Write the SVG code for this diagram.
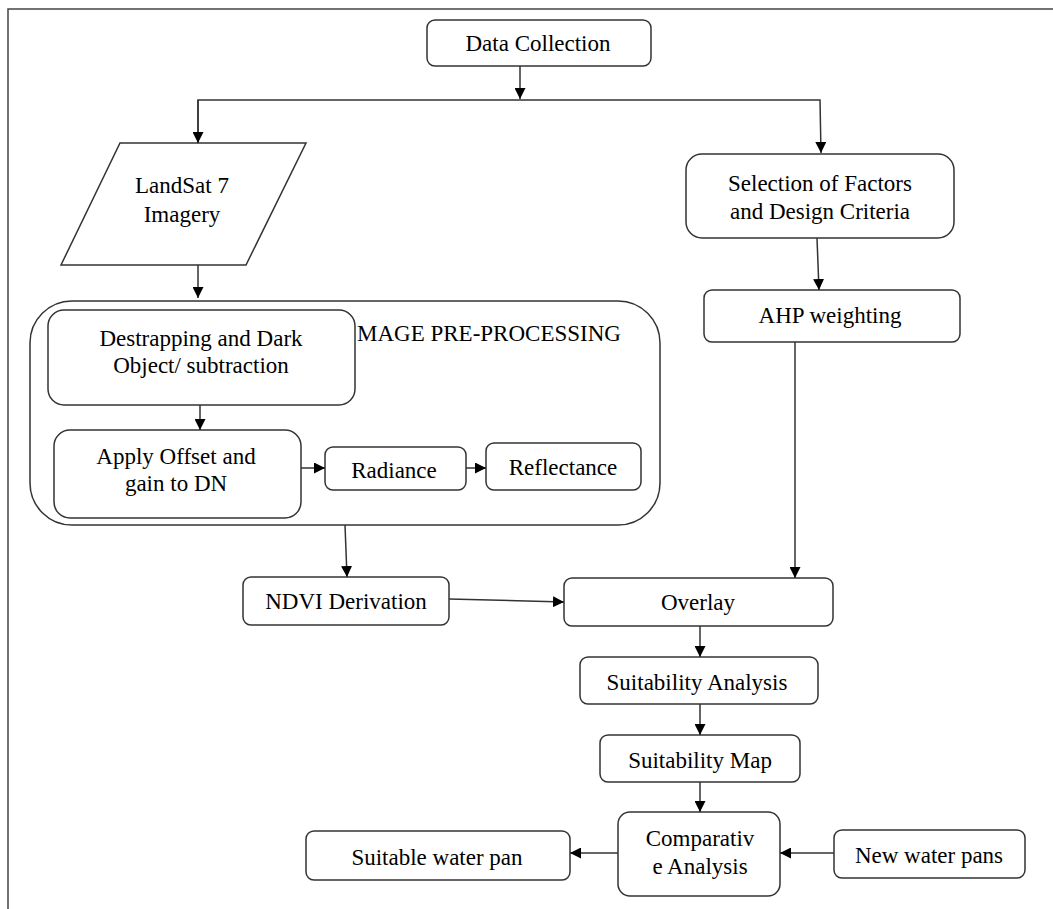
<svg xmlns="http://www.w3.org/2000/svg" width="1053" height="909" viewBox="0 0 1053 909">
<defs>
<marker id="ah" viewBox="0 0 10 10" refX="10" refY="5" markerWidth="11" markerHeight="11" markerUnits="userSpaceOnUse" orient="auto">
<path d="M0,0 L10,5 L0,10 z" fill="#000"/>
</marker>
<style>
.b{fill:#fff;stroke:#333;stroke-width:1.5}
.t{font-family:"Liberation Serif","Times New Roman",serif;font-size:23px;fill:#000;text-anchor:middle}
.c{fill:none;stroke:#333;stroke-width:1.5}
</style>
</defs>
<rect width="1053" height="909" fill="#fff"/>
<rect x="8" y="9" width="1070" height="930" fill="none" stroke="#444" stroke-width="1.5"/>

<g id="data-collection"><rect class="b" x="427" y="20" width="224" height="46" rx="8"/><text class="t" x="538" y="51">Data Collection</text></g>
<g id="landsat"><polygon class="b" points="120,143 306,143 246,265 61,265"/><text class="t" x="182" y="193">LandSat 7</text><text class="t" x="182" y="222">Imagery</text></g>
<g id="preprocessing"><rect class="b" x="30" y="301" width="630" height="224" rx="42"/><text class="t" x="357" y="341" style="text-anchor:start">MAGE PRE-PROCESSING</text></g>
<g id="destrapping"><rect class="b" x="48" y="310" width="307" height="95" rx="16"/><text class="t" x="201" y="346">Destrapping and Dark</text><text class="t" x="201" y="373">Object/ subtraction</text></g>
<g id="apply-offset"><rect class="b" x="54" y="430" width="247" height="88" rx="16"/><text class="t" x="176" y="464">Apply Offset and</text><text class="t" x="176" y="491">gain to DN</text></g>
<g id="radiance"><rect class="b" x="325" y="447" width="141" height="43" rx="8"/><text class="t" x="394" y="478">Radiance</text></g>
<g id="reflectance"><rect class="b" x="486" y="443" width="155" height="47" rx="8"/><text class="t" x="563" y="475">Reflectance</text></g>
<g id="ndvi"><rect class="b" x="243" y="577" width="206" height="48" rx="8"/><text class="t" x="346" y="609">NDVI Derivation</text></g>
<g id="selection"><rect class="b" x="686" y="154" width="268" height="84" rx="16"/><text class="t" x="820" y="191">Selection of Factors</text><text class="t" x="820" y="219">and Design Criteria</text></g>
<g id="ahp"><rect class="b" x="704" y="290" width="256" height="52" rx="8"/><text class="t" x="830" y="323">AHP weighting</text></g>
<g id="overlay"><rect class="b" x="564" y="578" width="269" height="48" rx="8"/><text class="t" x="698" y="610">Overlay</text></g>
<g id="suitability-analysis"><rect class="b" x="580" y="657" width="238" height="47" rx="8"/><text class="t" x="697" y="690">Suitability Analysis</text></g>
<g id="suitability-map"><rect class="b" x="600" y="735" width="200" height="47" rx="8"/><text class="t" x="700" y="768">Suitability Map</text></g>
<g id="comparative"><rect class="b" x="618" y="812" width="162" height="84" rx="12"/><text class="t" x="700" y="846">Comparativ</text><text class="t" x="700" y="874">e Analysis</text></g>
<g id="suitable-water-pan"><rect class="b" x="306" y="831" width="264" height="49" rx="8"/><text class="t" x="437" y="865">Suitable water pan</text></g>
<g id="new-water-pans"><rect class="b" x="834" y="830" width="191" height="48" rx="8"/><text class="t" x="929" y="863">New water pans</text></g>

<g id="connectors">
<path class="c" d="M520,66 V99" marker-end="url(#ah)"/>
<path class="c" d="M198,143 V100 H820 L821,153" marker-end="url(#ah)"/>
<path class="c" d="M198,100 V143" marker-end="url(#ah)"/>
<path class="c" d="M198,265 V298" marker-end="url(#ah)"/>
<path class="c" d="M200,405 V430" marker-end="url(#ah)"/>
<path class="c" d="M301,468 H325" marker-end="url(#ah)"/>
<path class="c" d="M466,468 H486" marker-end="url(#ah)"/>
<path class="c" d="M345,525 L347,577" marker-end="url(#ah)"/>
<path class="c" d="M449,599 L564,602" marker-end="url(#ah)"/>
<path class="c" d="M817,238 L819,290" marker-end="url(#ah)"/>
<path class="c" d="M795,342 V578" marker-end="url(#ah)"/>
<path class="c" d="M700,626 V657" marker-end="url(#ah)"/>
<path class="c" d="M700,704 V735" marker-end="url(#ah)"/>
<path class="c" d="M700,782 V812" marker-end="url(#ah)"/>
<path class="c" d="M618,853 H570" marker-end="url(#ah)"/>
<path class="c" d="M834,853 H780" marker-end="url(#ah)"/>
</g>
</svg>
